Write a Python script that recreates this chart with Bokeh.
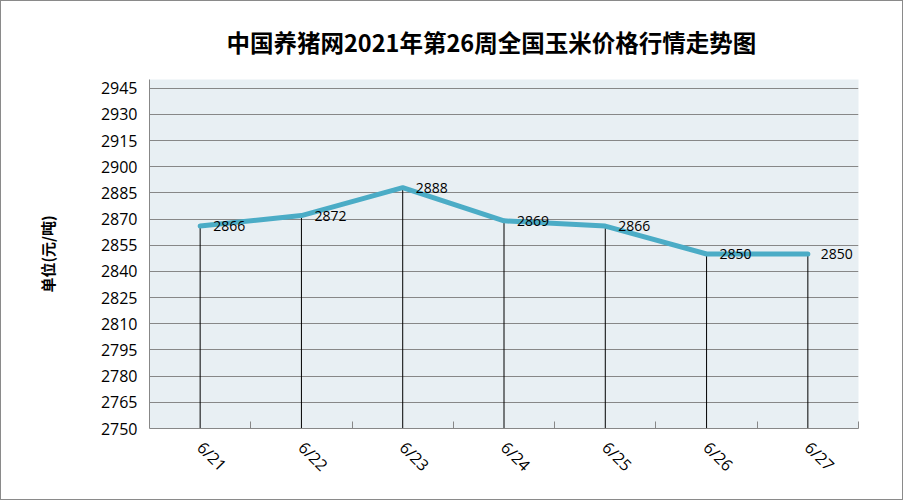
from bokeh.plotting import figure
from bokeh.models import Range1d, FixedTicker, ColumnDataSource
from bokeh.embed import file_html
from bokeh.resources import INLINE
from bokeh.core.properties import value

# ---- data ----
dates = ["6/21", "6/22", "6/23", "6/24", "6/25", "6/26", "6/27"]
prices = [2866, 2872, 2888, 2869, 2866, 2850, 2850]
y_ticks = list(range(2750, 2946, 15))
y_start, y_end = 2750, 2950
title_text = "中国养猪网2021年第26周全国玉米价格行情走势图"
y_label = "单位(元/吨)"

xs = [i + 0.5 for i in range(len(dates))]
src = ColumnDataSource(dict(
    x=xs, y=prices, base=[y_start] * len(dates),
    label=[str(v) for v in prices],
))

p = figure(width=903, height=500, output_backend="svg", toolbar_location=None,
           x_range=Range1d(0, len(dates)), y_range=Range1d(y_start, y_end),
           min_border_left=148, min_border_right=46, min_border_top=78,
           min_border_bottom=73)
p.styles = {"border": "1px solid #8a8a8a", "box-sizing": "border-box"}

p.background_fill_color = "#E8EFF3"
p.border_fill_color = "white"
p.outline_line_color = None

# title
p.title.text = title_text
p.title.text_font = "Noto Sans CJK SC"
p.title.text_font_size = "23.5px"
p.title.text_font_style = "bold"
p.title.text_color = "black"
p.title.align = "left"
p.title.offset = 77
p.title.standoff = 41

# grid
p.xgrid.grid_line_color = None
p.ygrid.grid_line_color = "#878787"
p.ygrid.grid_line_width = 1

# y axis
p.yaxis.ticker = FixedTicker(ticks=y_ticks)
p.yaxis.axis_line_color = "#878787"
p.yaxis.major_tick_in = 0
p.yaxis.major_tick_out = 0
p.yaxis.minor_tick_in = 0
p.yaxis.minor_tick_out = 0
p.yaxis.major_label_text_font = "Open Sans"
p.yaxis.major_label_text_font_size = "16px"
p.yaxis.major_label_text_color = "black"
p.yaxis.major_label_standoff = 12
p.yaxis.axis_label = y_label
p.yaxis.axis_label_text_font = "Noto Sans CJK SC"
p.yaxis.axis_label_text_font_size = "15px"
p.yaxis.axis_label_text_font_style = "bold"
p.yaxis.axis_label_text_color = "black"
p.yaxis.axis_label_standoff = 40

# x axis
p.xaxis.ticker = FixedTicker(ticks=xs, minor_ticks=list(range(1, len(dates) + 1)))
p.xaxis.major_label_overrides = {x: d for x, d in zip(xs, dates)}
p.xaxis.axis_line_color = "#878787"
p.xaxis.major_tick_in = 0
p.xaxis.major_tick_out = 0
p.xaxis.minor_tick_in = 7
p.xaxis.minor_tick_out = 0
p.xaxis.minor_tick_line_color = "#878787"
p.xaxis.major_label_orientation = -0.785398
p.xaxis.major_label_text_font = "Open Sans"
p.xaxis.major_label_text_font_size = "16px"
p.xaxis.major_label_text_color = "black"
p.xaxis.major_label_standoff = 16

# drop lines
p.segment(x0="x", y0="y", x1="x", y1="base", source=src, line_color="black", line_width=1)
# series line
p.line("x", "y", source=src, line_color="#4BACC6", line_width=5, line_cap="round",
       line_join="round")
# data labels
p.text("x", "y", text="label", source=src, x_offset=13, y_offset=0,
       text_baseline="middle", text_align="left",
       text_font=value("Open Sans"), text_font_size="14px", text_color="black")

open("out.html", "w").write(file_html(p, INLINE))
